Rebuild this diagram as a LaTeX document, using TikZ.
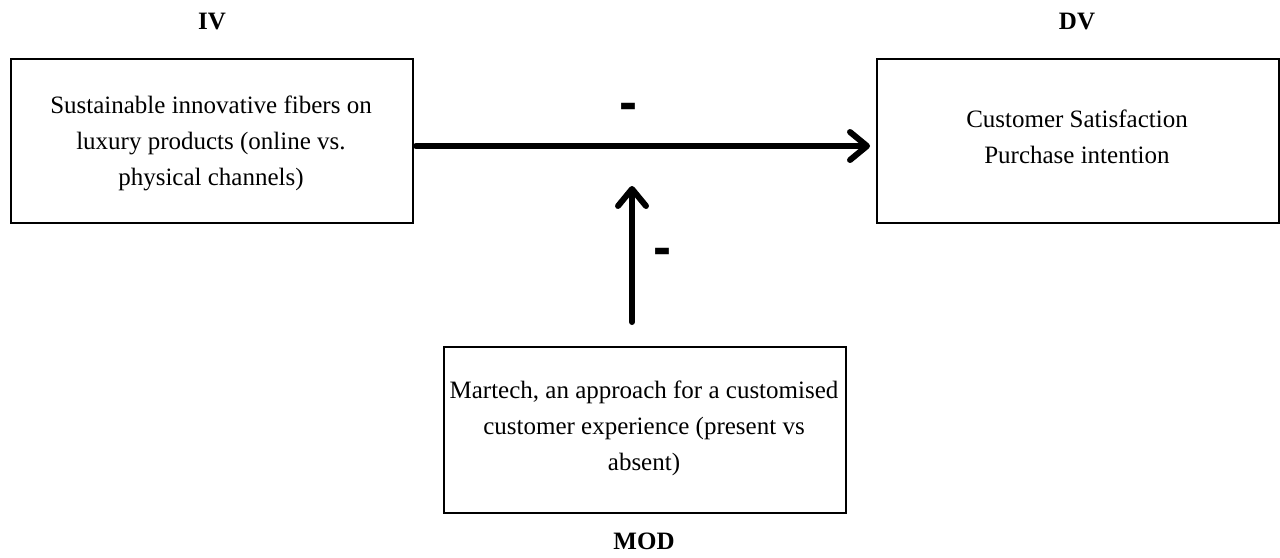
\documentclass[tikz,border=0pt]{standalone}
\usepackage{fontspec}
\setmainfont{Liberation Serif}
\newfontfamily\signfont{Liberation Sans}
\usetikzlibrary{arrows.meta}
\tikzset{
  varbox/.style={draw, line width=2pt, minimum width=402pt, minimum height=164pt,
    inner sep=0pt, anchor=north west},
  boxtext/.style={align=center, font=\fontsize{25pt}{36pt}\selectfont},
  varlabel/.style={font=\fontsize{25pt}{30pt}\selectfont\bfseries},
  effect/.style={line width=6pt, line cap=round,
    -{Straight Barb[length=17pt, width=28pt, round]}},
  sign/.style={font=\fontsize{54pt}{54pt}\selectfont\signfont\bfseries, inner sep=0pt}
}
\begin{document}
\begin{tikzpicture}[x=1pt, y=-1pt]
  \useasboundingbox (0,0) rectangle (1280,557);
  % the three variable boxes
  \node[varbox] (iv) at (10,58) {};
  \node[varbox] (dv) at (876,58) {};
  \node[varbox, minimum height=166pt] (mod) at (443,346) {};
  % box contents
  \node[boxtext] (ivtxt) at (211,143) {Sustainable innovative fibers on\\luxury products (online vs.\\physical channels)};
  \node[boxtext] (dvtxt) at (1077,137) {Customer Satisfaction\\Purchase intention};
  \node[boxtext] (modtxt) at (644,428) {Martech, an approach for a customised\\customer experience (present vs\\absent)};
  % variable labels
  \node[varlabel] (ivlab) at (212,22) {IV};
  \node[varlabel] (dvlab) at (1077,22) {DV};
  \node[varlabel] (modlab) at (644,541) {MOD};
  % main effect and moderation
  \coordinate (hstart) at (416,146);
  \coordinate (hend) at (870,146);
  \coordinate (vstart) at (632,322);
  \coordinate (vend) at (632,186);
  \draw[effect] (hstart) -- (hend);
  \draw[effect] (vstart) -- (vend);
  \node[sign] (hsign) at (628,112) {-};
  \node[sign] (vsign) at (662,257) {-};
\end{tikzpicture}
\end{document}
